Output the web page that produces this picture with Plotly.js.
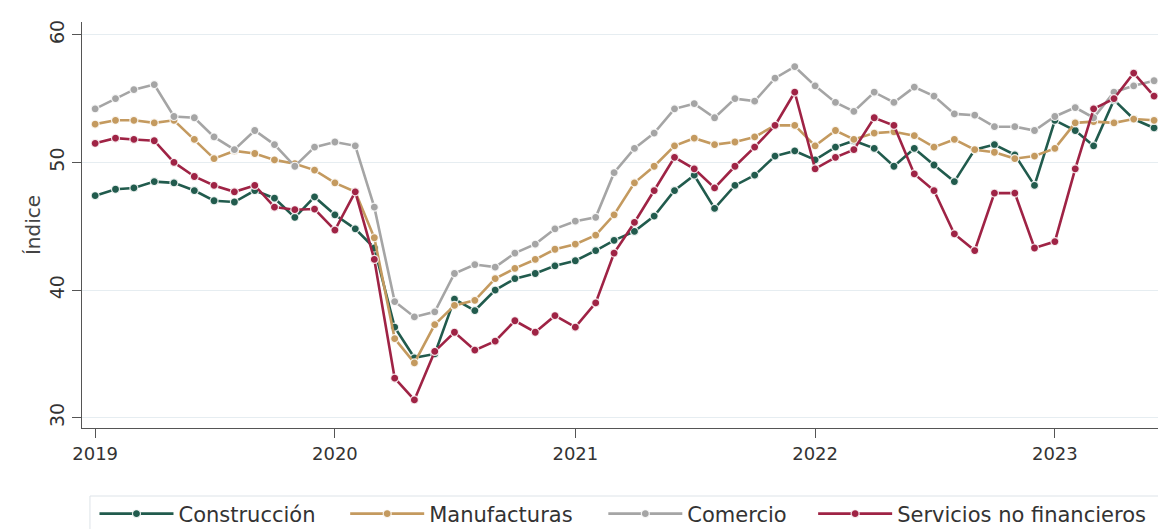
<!DOCTYPE html>
<html>
<head>
<meta charset="utf-8">
<script src="https://cdn.plot.ly/plotly-3.0.1.min.js"></script>
<style>
html,body{margin:0;padding:0;background:#fff;}
#chart{width:1158px;height:529px;}
</style>
</head>
<body>
<div id="chart"></div>
<script>
// Monthly dates Jan 2019 – Jun 2023
const months = [
"2019-01-01","2019-02-01","2019-03-01","2019-04-01","2019-05-01","2019-06-01","2019-07-01","2019-08-01","2019-09-01","2019-10-01","2019-11-01","2019-12-01",
"2020-01-01","2020-02-01","2020-03-01","2020-04-01","2020-05-01","2020-06-01","2020-07-01","2020-08-01","2020-09-01","2020-10-01","2020-11-01","2020-12-01",
"2021-01-01","2021-02-01","2021-03-01","2021-04-01","2021-05-01","2021-06-01","2021-07-01","2021-08-01","2021-09-01","2021-10-01","2021-11-01","2021-12-01",
"2022-01-01","2022-02-01","2022-03-01","2022-04-01","2022-05-01","2022-06-01","2022-07-01","2022-08-01","2022-09-01","2022-10-01","2022-11-01","2022-12-01",
"2023-01-01","2023-02-01","2023-03-01","2023-04-01","2023-05-01","2023-06-01"
];

const construccion = [
47.4,47.9,48.0,48.5,48.4,47.8,47.0,46.9,47.8,47.2,45.7,47.3,
45.9,44.8,43.3,37.1,34.7,35.0,39.3,38.4,40.0,40.9,41.3,41.9,
42.3,43.1,43.9,44.6,45.8,47.8,49.0,46.4,48.2,49.0,50.5,50.9,
50.2,51.2,51.7,51.1,49.7,51.1,49.8,48.5,51.0,51.4,50.6,48.2,
53.3,52.5,51.3,54.9,53.4,52.7
];

const manufacturas = [
53.0,53.3,53.3,53.1,53.3,51.8,50.3,50.9,50.7,50.2,49.9,49.4,
48.4,47.7,44.1,36.2,34.3,37.3,38.8,39.2,40.9,41.7,42.4,43.2,
43.6,44.3,45.9,48.4,49.7,51.3,51.9,51.4,51.6,52.0,52.9,52.9,
51.3,52.5,51.8,52.3,52.4,52.1,51.2,51.8,51.0,50.8,50.3,50.5,
51.1,53.1,53.2,53.1,53.4,53.3
];

const comercio = [
54.2,55.0,55.7,56.1,53.6,53.5,52.0,51.0,52.5,51.4,49.7,51.2,
51.6,51.3,46.5,39.1,37.9,38.3,41.3,42.0,41.8,42.9,43.6,44.8,
45.4,45.7,49.2,51.1,52.3,54.2,54.6,53.5,55.0,54.8,56.6,57.5,
56.0,54.7,54.0,55.5,54.7,55.9,55.2,53.8,53.7,52.8,52.8,52.5,
53.6,54.3,53.5,55.5,56.0,56.4
];

const servicios = [
51.5,51.9,51.8,51.7,50.0,48.9,48.2,47.7,48.2,46.5,46.3,46.35,
44.7,47.7,42.4,33.1,31.4,35.2,36.7,35.3,36.0,37.6,36.7,38.0,
37.1,39.0,42.9,45.3,47.8,50.4,49.5,48.0,49.7,51.2,52.9,55.5,
49.5,50.4,51.0,53.5,52.9,49.1,47.8,44.4,43.1,47.6,47.6,43.3,
43.8,49.5,54.2,55.0,57.0,55.2
];

const seriesNames = ["Construcción","Manufacturas","Comercio","Servicios no financieros"];
const seriesColors = ["#215b4d","#c49a5f","#a5a5a5","#9f2345"];
const seriesData = [construccion, manufacturas, comercio, servicios];

const yTicks = [30,40,50,60];
const xTickVals = ["2019-01-01","2020-01-01","2021-01-01","2022-01-01","2023-01-01"];
const xTickText = ["2019","2020","2021","2022","2023"];

const FONT = "DejaVu Sans, sans-serif";
const legendIds = ["legend","legend2","legend3","legend4"];
const legendX = [0.0116, 0.2446, 0.4845, 0.6795];

const traces = seriesData.map((vals, i) => ({
  type: "scatter",
  mode: "lines+markers",
  name: seriesNames[i],
  legend: legendIds[i],
  x: months,
  y: vals,
  line: {color: seriesColors[i], width: 2.6},
  marker: {color: seriesColors[i], size: 8, line: {color: "rgba(255,255,255,0.85)", width: 1.2}},
  hoverinfo: "x+y+name"
}));

const legendStyle = (xpos) => ({
  orientation: "h",
  x: xpos,
  xanchor: "left",
  y: -0.2118,
  yanchor: "middle",
  borderwidth: 0,
  bgcolor: "rgba(0,0,0,0)",
  font: {family: FONT, size: 21, color: "#333333"},
  itemwidth: 74
});

const layout = {
  width: 1158,
  height: 529,
  paper_bgcolor: "#ffffff",
  plot_bgcolor: "#ffffff",
  margin: {l: 82, r: 0, t: 22, b: 101, autoexpand: false},
  showlegend: true,
  font: {family: FONT, color: "#333333", size: 18},
  xaxis: {
    type: "date",
    range: ["2018-12-12", "2023-06-07"],
    tickvals: xTickVals,
    ticktext: xTickText,
    ticks: "outside",
    ticklen: 9,
    tickwidth: 1,
    tickcolor: "#555555",
    showline: true,
    linecolor: "#555555",
    linewidth: 1,
    showgrid: false,
    zeroline: false,
    automargin: false,
    tickfont: {family: FONT, size: 18, color: "#333333"}
  },
  yaxis: {
    range: [29.2, 61.0],
    tickvals: yTicks,
    ticks: "outside",
    ticklen: 9,
    tickwidth: 1,
    tickcolor: "#555555",
    tickangle: -90,
    showline: true,
    linecolor: "#555555",
    linewidth: 1,
    showgrid: true,
    gridcolor: "#e6edf1",
    gridwidth: 1,
    zeroline: false,
    automargin: false,
    tickfont: {family: FONT, size: 19, color: "#333333"},
    title: {text: "Índice", font: {family: FONT, size: 20, color: "#444444"}, standoff: 0}
  },
  legend: legendStyle(legendX[0]),
  legend2: legendStyle(legendX[1]),
  legend3: legendStyle(legendX[2]),
  legend4: legendStyle(legendX[3]),
  shapes: [{
    type: "rect",
    xref: "paper", yref: "paper",
    x0: 0.0074, x1: 1.02,
    y0: -0.1675, y1: -0.32,
    line: {color: "#dde3e8", width: 1},
    fillcolor: "rgba(0,0,0,0)",
    layer: "below"
  }]
};

Plotly.newPlot("chart", traces, layout, {displayModeBar: false, responsive: false});
</script>
</body>
</html>
